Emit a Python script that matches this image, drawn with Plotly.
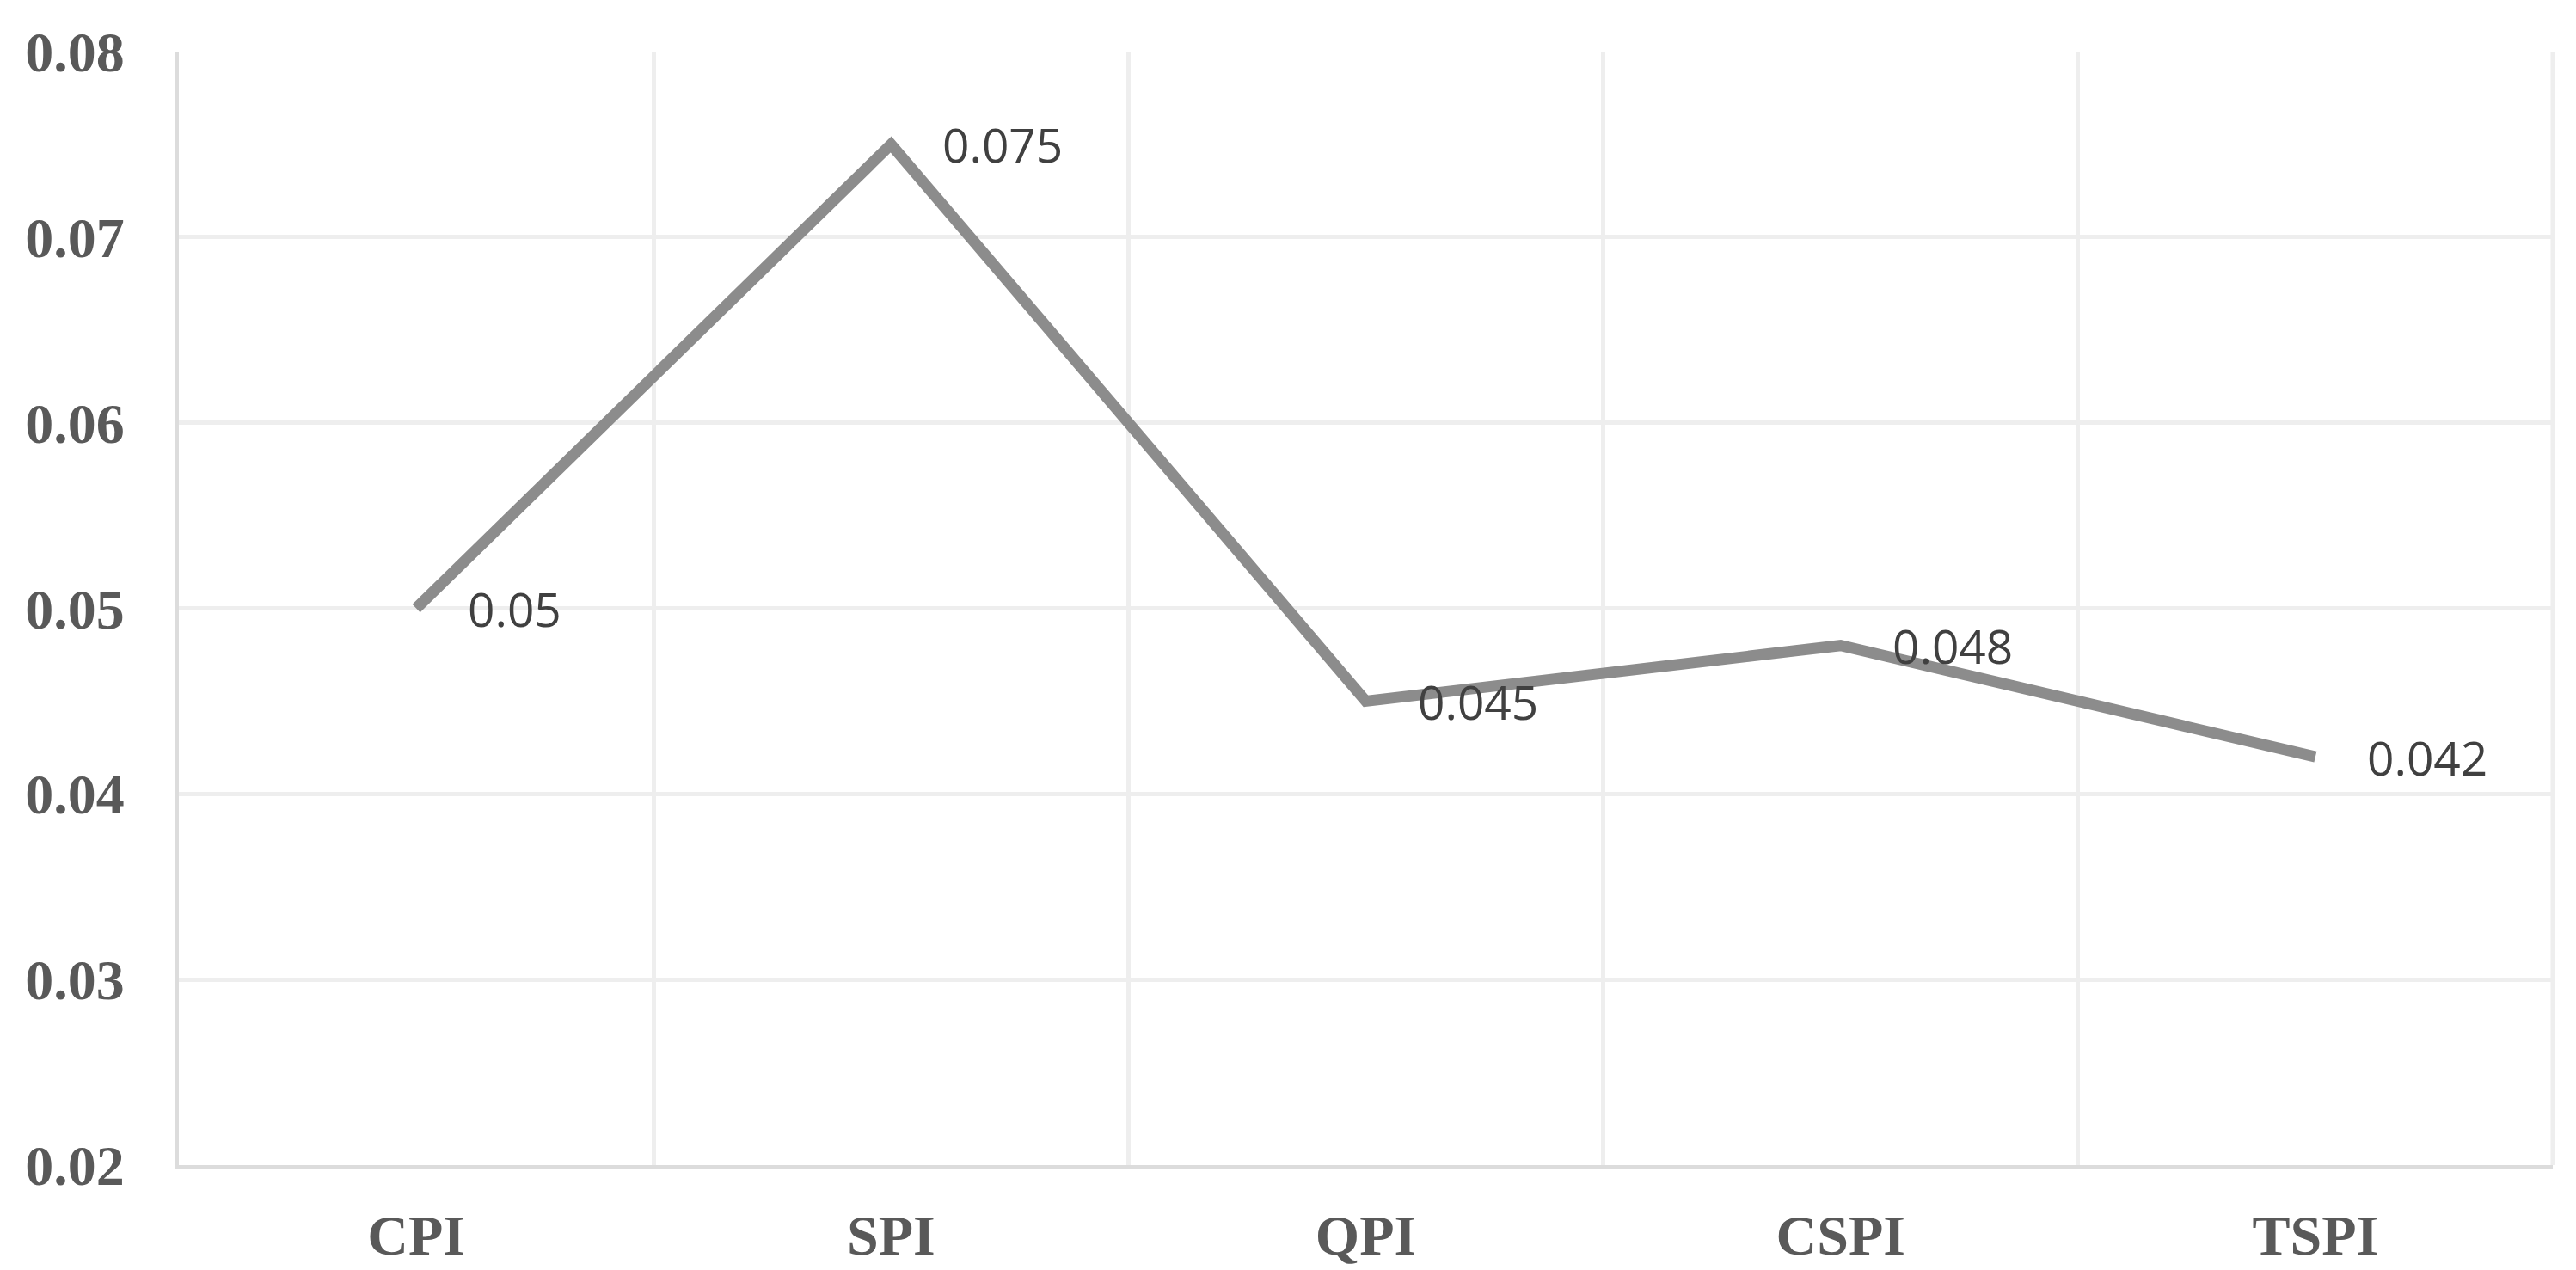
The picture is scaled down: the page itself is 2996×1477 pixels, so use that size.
import plotly.graph_objects as go

categories = ["CPI", "SPI", "QPI", "CSPI", "TSPI"]
values = [0.05, 0.075, 0.045, 0.048, 0.042]
y_ticks = [0.02, 0.03, 0.04, 0.05, 0.06, 0.07, 0.08]

fig = go.Figure()
fig.add_trace(go.Scatter(
    x=categories, y=values, mode="lines",
    line=dict(color="#8c8c8c", width=13),
    hoverinfo="skip", showlegend=False,
))

for c, v in zip(categories, values):
    fig.add_annotation(
        x=c, y=v, text=str(v), showarrow=False,
        xanchor="left", yanchor="middle", xshift=58,
        font=dict(family="Open Sans", size=55, color="#404040"),
    )

fig.update_layout(
    width=2996, height=1477,
    margin=dict(l=200, r=35, t=52, b=128),
    paper_bgcolor="white", plot_bgcolor="white",
    showlegend=False,
)
fig.update_xaxes(
    type="category", range=[-0.5, 4.5],
    tickson="boundaries", showgrid=True, gridcolor="#eeeeee", gridwidth=5,
    showline=True, linecolor="#dcdcdc", linewidth=5,
    ticks="outside", ticklen=70, tickcolor="rgba(0,0,0,0)",
    ticklabelstandoff=20,
    tickfont=dict(family="Liberation Serif", size=66, color="#595959", weight="bold"),
    zeroline=False, mirror=False,
)
fig.update_yaxes(
    range=[0.02, 0.08], tickvals=y_ticks, ticktext=[f"{t:.2f}" for t in y_ticks],
    showgrid=True, gridcolor="#eeeeee", gridwidth=5,
    showline=True, linecolor="#dcdcdc", linewidth=5,
    ticks="outside", ticklen=45, tickcolor="rgba(0,0,0,0)",
    tickfont=dict(family="Liberation Serif", size=66, color="#595959", weight="bold"),
    zeroline=False,
)
# right border
fig.add_shape(type="line", xref="paper", yref="paper", x0=1, x1=1, y0=0, y1=1,
              line=dict(color="#eeeeee", width=5), layer="below")

fig.write_html("out.html")
